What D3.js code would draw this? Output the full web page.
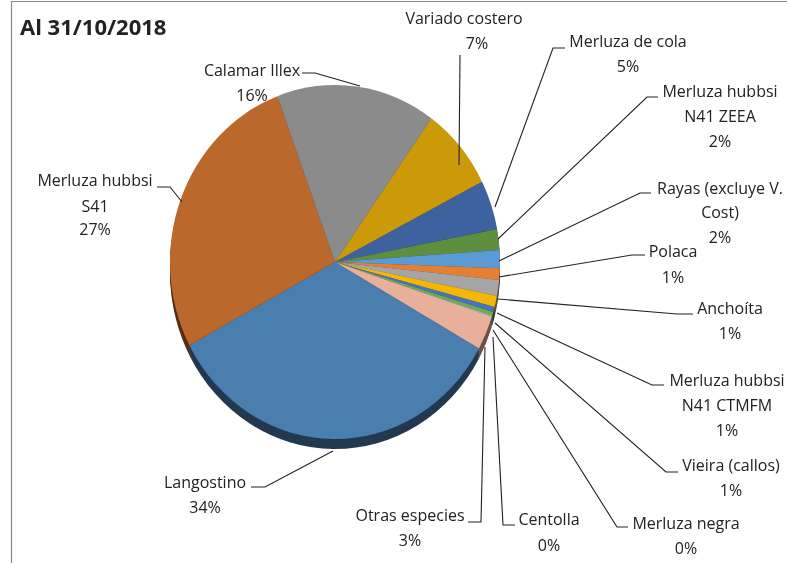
<!DOCTYPE html>
<html><head><meta charset="utf-8">
<script src="https://cdn.jsdelivr.net/npm/d3@7/dist/d3.min.js"></script>
<style>html,body{margin:0;background:#fff}svg{display:block}text{font-family:"Open Sans",sans-serif;fill:#222}</style>
</head><body><svg id="c" width="787" height="563"></svg>
<script>
const title = "Al 31/10/2018";
const categories = [["Variado costero"],["Merluza de cola"],["Merluza hubbsi","N41 ZEEA"],["Rayas (excluye V.","Cost)"],["Polaca"],["Anchoíta"],["Merluza hubbsi","N41 CTMFM"],["Vieira (callos)"],["Merluza negra"],["Centolla"],["Otras especies"],["Langostino"],["Merluza hubbsi","S41"],["Calamar Illex"]];
const values = [7.6,4.5,1.9,1.64,1.06,1.47,1.0,0.47,0.36,0.1,3.1,34.1,27.1,15.6];
const percentLabels = ["7%","5%","2%","2%","1%","1%","1%","1%","0%","0%","3%","34%","27%","16%"];
const colors = ["#cc9a09","#3d629f","#5f8e3e","#5b9bd5","#e47f34","#a5a5a5","#f5b705","#4472c4","#70ad47","#9dc3e6","#e8b09b","#4a7eae","#bb682d","#8b8b8b"];

// layout only, kept apart from the data
const labelLayout = [
 {pos:[[464,18],[477,43]], leader:[[460,55],[459,165]]},
 {pos:[[628,41],[628,66]], leader:[[565,48],[553,48],[495,207]]},
 {pos:[[720,91],[720,116],[720,141]], leader:[[658,97],[647,97],[498,239]]},
 {pos:[[720,188],[720,212],[720,237]], leader:[[651,193],[640,193],[499,261]]},
 {pos:[[673,251],[673,277]], leader:[[645,255],[632,255],[499,277]]},
 {pos:[[730,308],[730,333]], leader:[[693,314],[677,314],[498,299]]},
 {pos:[[727,380],[727,405],[727,430]], leader:[[664,385],[652,385],[497,313]]},
 {pos:[[731,465],[731,490]], leader:[[678,472],[666,472],[495,323]]},
 {pos:[[686,523],[686,548]], leader:[[628,527],[617,527],[493,330]]},
 {pos:[[549,519],[549,545]], leader:[[515,525],[503,525],[493,337]]},
 {pos:[[410,515],[410,540]], leader:[[468,522],[481,522],[485,347]]},
 {pos:[[205,482],[205,507]], leader:[[251,487],[265,487],[333,451]]},
 {pos:[[95,180],[95,206],[95,229]], leader:[[157,187],[170,187],[182,202]]},
 {pos:[[252,70],[252,95]], leader:[[302,73],[315,73],[360,86]]}
];

const svg = d3.select("#c");
svg.append("defs").append("filter").attr("id","soft").append("feGaussianBlur").attr("stdDeviation",0.45);
svg.append("path").attr("d","M11.5,563V1.5H787").attr("fill","none").attr("stroke","#8a8a8a").attr("stroke-width",1.2);

const cx=335, cy=262, rx=165, ry=177, depth=10;
const pie = d3.pie().value(d=>d).sort(null)
  .startAngle(35.7*Math.PI/180).endAngle((360+35.7)*Math.PI/180);
const arcs = pie(values);
const arc = d3.arc().innerRadius(0).outerRadius(rx);
const scaleT = `scale(1,${ry/rx})`;
const dark = i=>d3.color(colors[i]).darker(2.2);

[depth,depth*.75,depth*.5,depth*.25].forEach(off=>{
  svg.append("g").attr("transform",`translate(${cx},${cy+off}) ${scaleT}`)
    .selectAll("path").data(arcs).join("path").attr("d",arc).attr("fill",(d,i)=>dark(i));
});
svg.append("g").attr("transform",`translate(${cx},${cy}) ${scaleT}`)
  .selectAll("path").data(arcs).join("path").attr("d",arc).attr("fill",(d,i)=>colors[i]);

const line = d3.line();
svg.append("g").selectAll("path").data(labelLayout).join("path")
  .attr("d",d=>line(d.leader)).attr("fill","none").attr("stroke","#222").attr("stroke-width",1.1);

const txt = svg.append("g").attr("filter","url(#soft)");
labelLayout.forEach((l,i)=>{
  categories[i].concat(percentLabels[i]).forEach((t,j)=>{
    txt.append("text").attr("x",l.pos[j][0]).attr("y",l.pos[j][1]).attr("text-anchor","middle")
      .attr("dominant-baseline","central").attr("font-size",16).text(t);
  });
});
txt.append("text").attr("x",20).attr("y",26).attr("dominant-baseline","central")
  .attr("font-size",22).attr("font-weight",700).text(title);
</script></body></html>
